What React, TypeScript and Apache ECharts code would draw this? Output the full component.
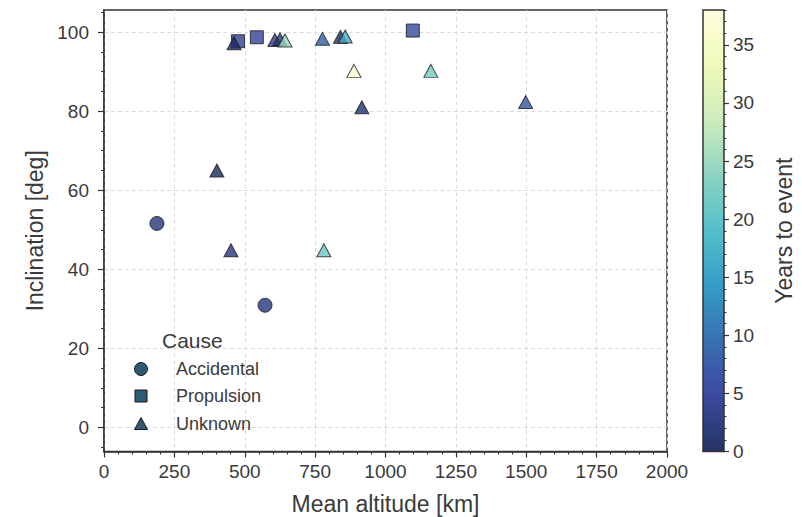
import React, { useEffect, useRef } from "react";
import * as echarts from "echarts";

const accidentalAlt = [188, 572];
const accidentalInc = [51.6, 30.9];
const accidentalYears = [2.5, 2.5];

const propulsionAlt = [476, 543, 1097];
const propulsionInc = [97.7, 98.7, 100.4];
const propulsionYears = [4, 4.5, 5.5];

const unknownAlt = [462, 401, 451, 916, 607, 625, 643, 776, 840, 857, 888, 1161, 1498, 781];
const unknownInc = [97.2, 65.0, 44.8, 81.0, 98.0, 98.2, 97.9, 98.3, 98.8, 98.9, 90.2, 90.2, 82.3, 44.8];
const unknownYears = [0.5, 0.5, 2.5, 1.5, 3, 2, 25, 8, 0.5, 17, 36, 22, 7, 21];

const xTicks = [0, 250, 500, 750, 1000, 1250, 1500, 1750, 2000];
const yTicks = [0, 20, 40, 60, 80, 100];
const yMinorTicks = [-5, 5, 10, 15, 25, 30, 35, 45, 50, 55, 65, 70, 75, 85, 90, 95, 105];
const cbTicks = [0, 5, 10, 15, 20, 25, 30, 35];
const cbMinorTicks = Array.from({ length: 38 }, (_, i) => i + 1).filter((v) => v % 5 !== 0);

const legendLabels = ["Accidental", "Propulsion", "Unknown"];

const cbColors = [
  "#253364", "#3b499f", "#396fb1", "#349dc7", "#55beca",
  "#8cd3c2", "#cdecbc", "#eff9b9", "#ffffdd",
];
const markerColors = [
  "#18275a", "#33439a", "#3668b0", "#329bc6", "#52bcc9",
  "#88d1bf", "#cbebba", "#eef9b9", "#ffffdd",
];

const FONT = "'Liberation Sans', Arial, sans-serif";
const TXT = "#3a3a3a";
const AX = "#333333";
const YMIN = -6.1;
const YMAX = 105.6;
const CBMAX = 38;

function zip(a: number[], b: number[], c: number[]) {
  return a.map((v, i) => [v, b[i], c[i]]);
}

export default function App() {
  const ref = useRef<HTMLDivElement>(null);
  useEffect(() => {
    if (!ref.current) return;
    const chart = echarts.init(ref.current, undefined, { renderer: "svg" });
    const edge = { borderColor: "#1b1b1b", borderWidth: 1 };
    const gradStops = cbColors.map((c, i) => ({ offset: i / (cbColors.length - 1), color: c }));
    const legendY = [369, 396, 424];
    const lx = 141;
    const legendFill = "#2e5b73";
    chart.setOption({
      animation: false,
      backgroundColor: "#ffffff",
      textStyle: { fontFamily: FONT },
      grid: [
        { left: 104, top: 10, width: 563, height: 441.5, containLabel: false, outerBoundsMode: "none", show: true, borderColor: AX, borderWidth: 1.5, backgroundColor: "transparent" },
        { left: 703, top: 10, width: 21, height: 441.5, containLabel: false, outerBoundsMode: "none" },
      ],
      xAxis: [
        {
          type: "value", gridIndex: 0, min: 0, max: 2000, interval: 250,
          name: "Mean altitude [km]", nameLocation: "middle", nameGap: 41,
          nameTextStyle: { fontSize: 23, color: TXT, fontFamily: FONT },
          axisLine: { show: true, onZero: false, lineStyle: { color: AX, width: 1.5 } },
          axisTick: { show: true, length: 6, customValues: xTicks, lineStyle: { color: AX, width: 1.2 } },
          minorTick: { show: true, splitNumber: 5, length: 3, lineStyle: { color: AX, width: 1 } },
          axisLabel: { fontSize: 19, color: TXT, margin: 10, customValues: xTicks, fontFamily: FONT, formatter: (v: number) => String(v) },
          splitLine: { show: true, lineStyle: { color: "#dcdcdc", type: [4, 3], width: 1 } },
        },
        {
          type: "category", gridIndex: 1, data: ["cb"], show: false,
        },
      ],
      yAxis: [
        {
          type: "value", gridIndex: 0, min: YMIN, max: YMAX,
          name: "Inclination [deg]", nameLocation: "middle", nameGap: 58, nameRotate: 90,
          nameTextStyle: { fontSize: 23, color: TXT, fontFamily: FONT },
          axisLine: { show: true, onZero: false, lineStyle: { color: AX, width: 1.5 } },
          axisTick: { show: true, length: 6, customValues: yTicks, lineStyle: { color: AX, width: 1.2 } },
          axisLabel: { fontSize: 19, color: TXT, margin: 15, customValues: yTicks, fontFamily: FONT },
          splitLine: { show: true, lineStyle: { color: "#dcdcdc", type: [4, 3], width: 1 } },
        },
        {
          type: "value", gridIndex: 0, min: YMIN, max: YMAX, position: "left",
          axisLine: { show: false, onZero: false },
          axisTick: { show: true, length: 3, customValues: yMinorTicks, lineStyle: { color: AX, width: 1 } },
          axisLabel: { show: false },
          splitLine: { show: false },
        },
        {
          type: "value", gridIndex: 1, min: 0, max: CBMAX, position: "right",
          name: "Years to event", nameLocation: "middle", nameGap: 48, nameRotate: 90,
          nameTextStyle: { fontSize: 23, color: TXT, fontFamily: FONT },
          axisLine: { show: false, onZero: false },
          axisTick: { show: true, length: 5, customValues: cbTicks, lineStyle: { color: AX, width: 1.2 } },
          axisLabel: { fontSize: 19, color: TXT, margin: 9, customValues: cbTicks, fontFamily: FONT },
          splitLine: { show: false },
        },
        {
          type: "value", gridIndex: 1, min: 0, max: CBMAX, position: "right",
          axisLine: { show: false, onZero: false },
          axisTick: { show: true, length: 2.5, customValues: cbMinorTicks, lineStyle: { color: AX, width: 1 } },
          axisLabel: { show: false },
          splitLine: { show: false },
        },
      ],
      visualMap: {
        type: "continuous", show: false, dimension: 2, min: 0, max: CBMAX,
        seriesIndex: [0, 1, 2],
        inRange: { color: markerColors },
      },
      series: [
        {
          type: "scatter", name: "Accidental", xAxisIndex: 0, yAxisIndex: 0,
          symbol: "circle", symbolSize: 14, itemStyle: edge,
          data: zip(accidentalAlt, accidentalInc, accidentalYears),
        },
        {
          type: "scatter", name: "Propulsion", xAxisIndex: 0, yAxisIndex: 0,
          symbol: "rect", symbolSize: 13, itemStyle: edge,
          data: zip(propulsionAlt, propulsionInc, propulsionYears),
        },
        {
          type: "scatter", name: "Unknown", xAxisIndex: 0, yAxisIndex: 0,
          symbol: "triangle", symbolSize: [14, 13], itemStyle: edge,
          data: zip(unknownAlt, unknownInc, unknownYears),
        },
        {
          type: "bar", xAxisIndex: 1, yAxisIndex: 2, barWidth: "100%", silent: true,
          data: [CBMAX],
          itemStyle: { color: new echarts.graphic.LinearGradient(0, 1, 0, 0, gradStops) },
        },
      ],
      graphic: [
        { type: "rect", z: 100, shape: { x: 703, y: 10, width: 21, height: 441.5 }, style: { fill: "none", stroke: AX, lineWidth: 1.5 } },
        { type: "text", z: 100, x: 162, y: 340, style: { text: "Cause", fontSize: 21, fill: TXT, fontFamily: FONT, verticalAlign: "middle" } },
        { type: "circle", z: 100, shape: { cx: lx, cy: legendY[0], r: 6.5 }, style: { fill: legendFill, stroke: "#1b1b1b", lineWidth: 1 } },
        { type: "rect", z: 100, shape: { x: lx - 6, y: legendY[1] - 6, width: 12, height: 12 }, style: { fill: legendFill, stroke: "#1b1b1b", lineWidth: 1 } },
        { type: "polygon", z: 100, shape: { points: [[lx, legendY[2] - 6.5], [lx - 6.5, legendY[2] + 5.5], [lx + 6.5, legendY[2] + 5.5]] }, style: { fill: legendFill, stroke: "#1b1b1b", lineWidth: 1 } },
        ...legendLabels.map((t, i) => ({
          type: "text", z: 100, x: 176, y: legendY[i],
          style: { text: t, fontSize: 18, fill: TXT, fontFamily: FONT, verticalAlign: "middle" },
        })),
      ],
    });
    return () => chart.dispose();
  }, []);
  return (
    <div
      ref={ref}
      style={{ position: "fixed", left: 0, top: 0, width: 802, height: 517 }}
    />
  );
}
